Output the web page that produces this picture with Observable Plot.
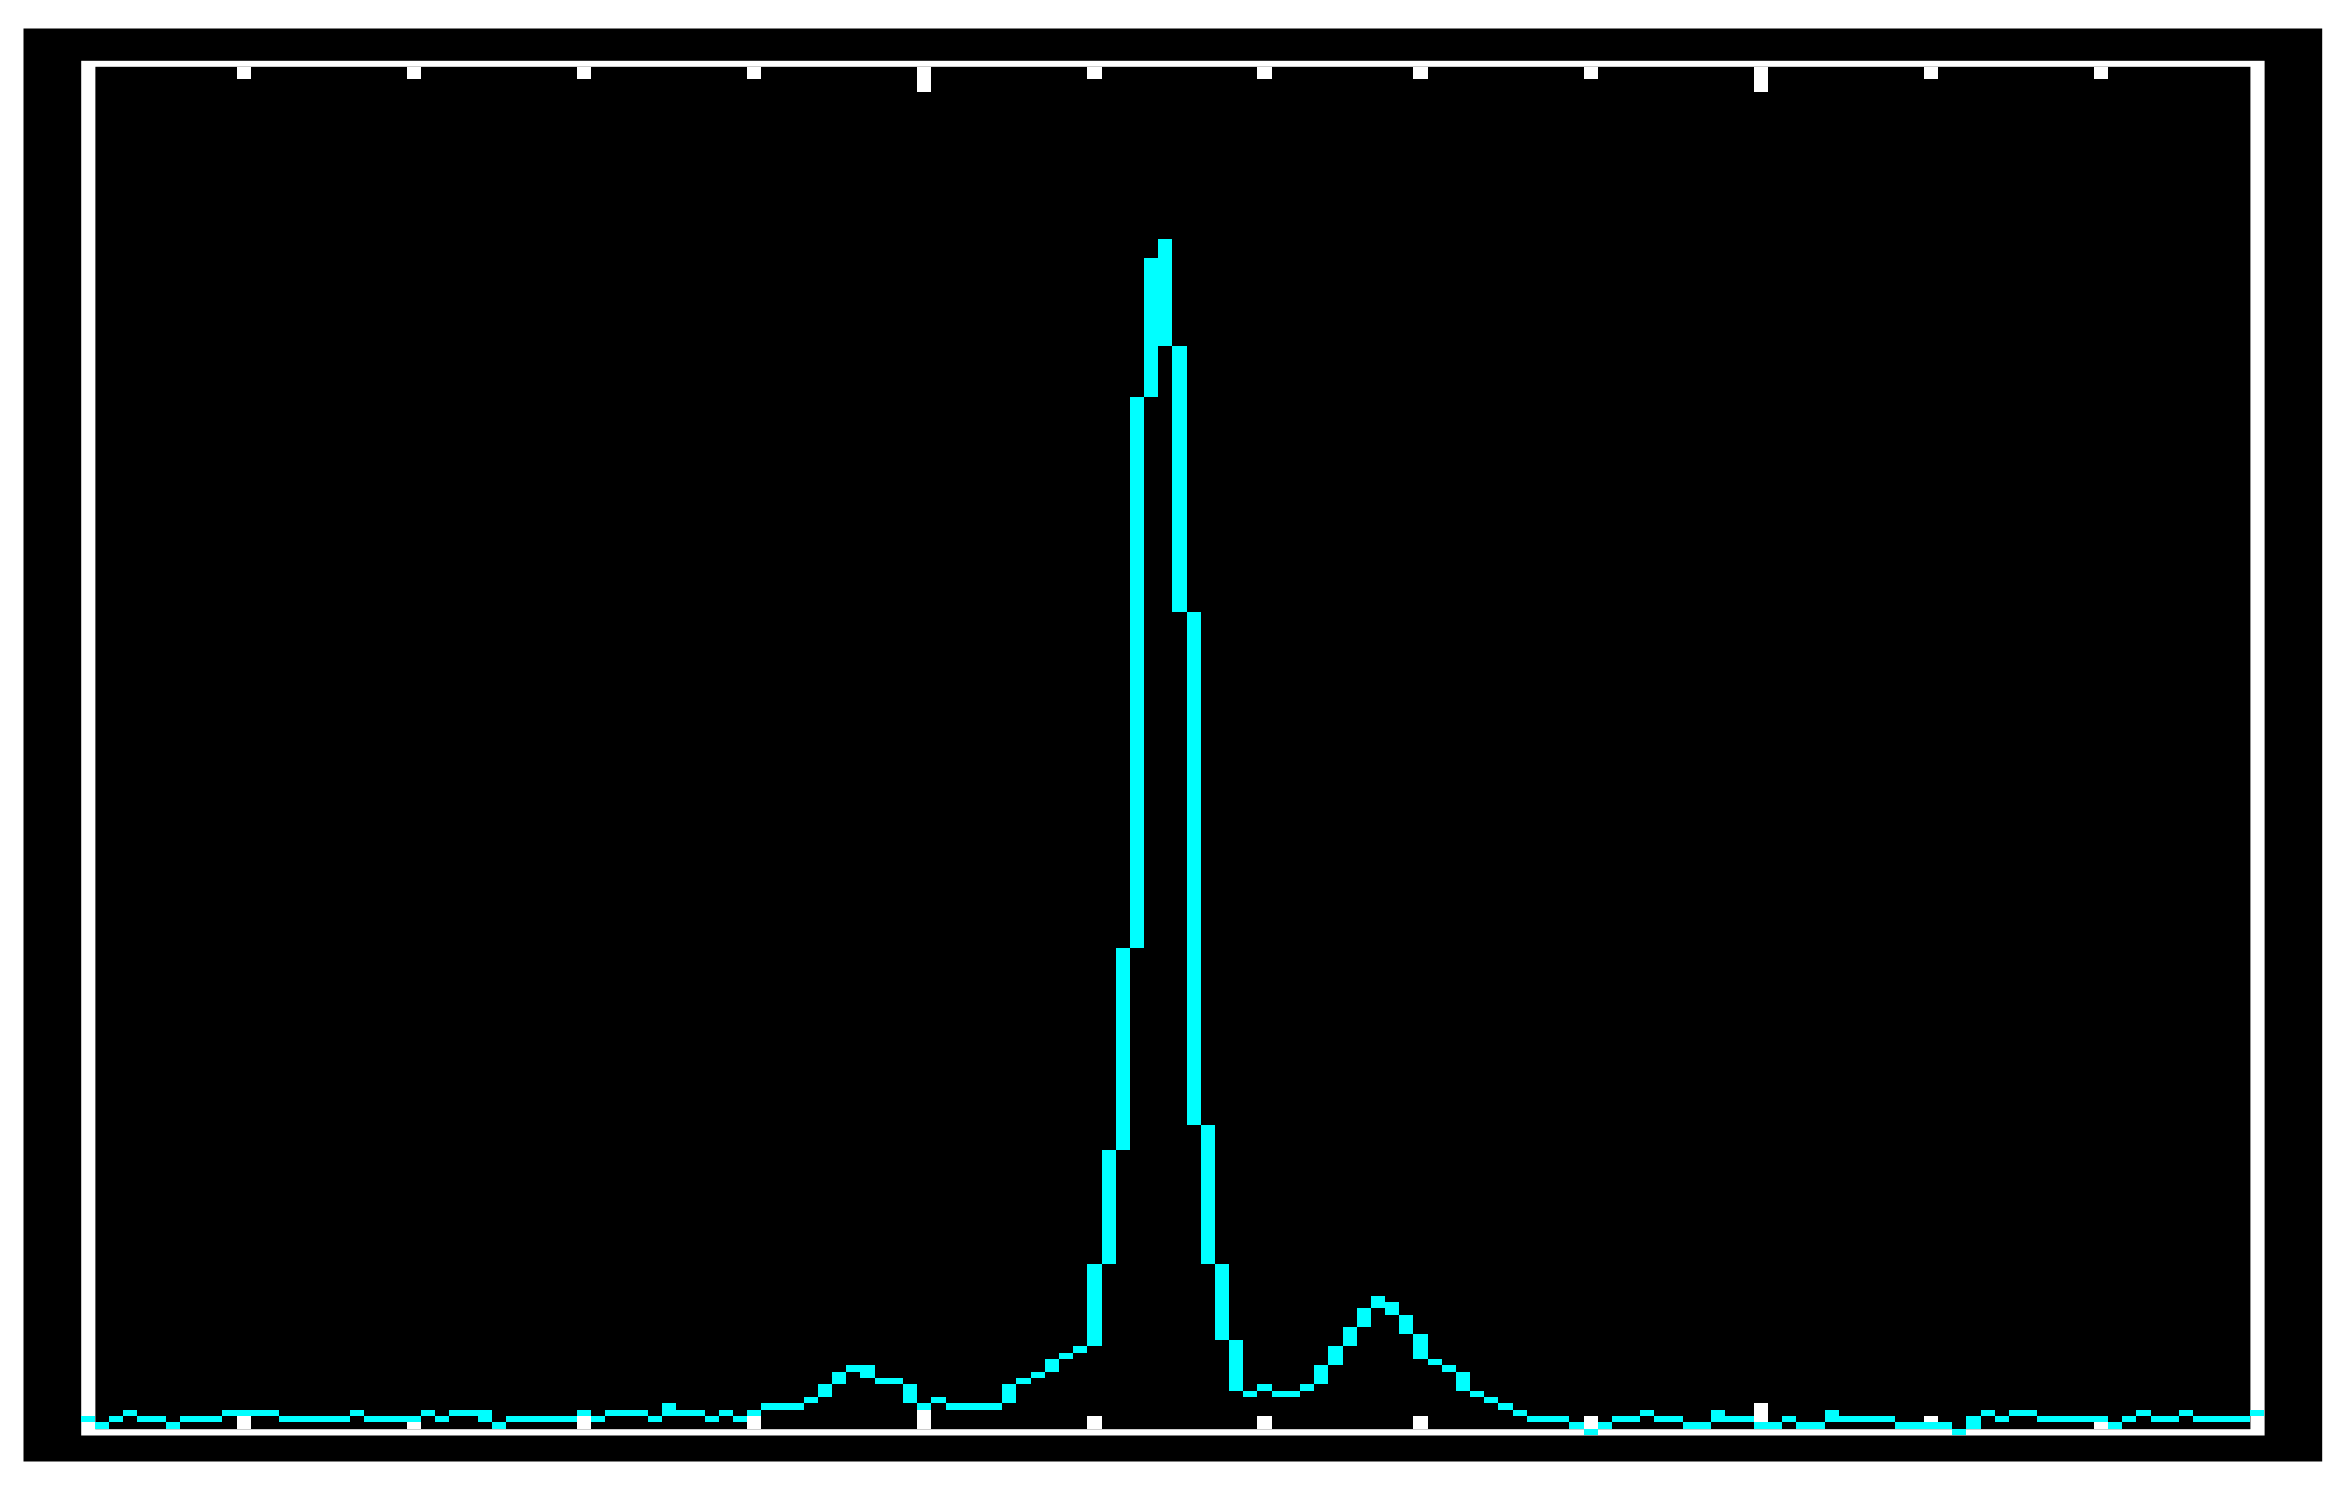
<!DOCTYPE html>
<html>
<head>
<meta charset="utf-8">
<script src="https://cdn.jsdelivr.net/npm/d3@7"></script>
<script src="https://cdn.jsdelivr.net/npm/@observablehq/plot@0.6"></script>
<style>
  html, body { margin: 0; padding: 0; background: #ffffff; overflow: hidden; }
  #chart svg { display: block; }
</style>
</head>
<body>
<div id="chart"></div>
<script>
// Histogram counts, one per channel (channel 0 … 153)
const counts = [
  2,1,2,3,2,2,1,2,2,2,
  3,3,3,3,2,2,2,2,2,3,
  2,2,2,2,3,2,3,3,3,1,
  2,2,2,2,2,3,2,3,3,3,
  2,4,3,3,2,3,2,3,4,4,
  4,5,7,9,10,10,8,8,7,4,
  5,4,4,4,4,7,8,9,11,12,
  13,26,44,76,163,185,188,171,129,48,
  26,14,6,7,6,6,7,10,13,16,
  19,21,20,18,15,11,10,9,6,5,
  4,3,2,2,2,1,0,1,2,2,
  3,2,2,1,1,3,2,2,1,1,
  2,1,1,3,2,2,2,2,1,1,
  1,1,0,2,3,2,3,3,2,2,
  2,2,2,1,2,3,2,2,3,2,
  2,2,2,3
];

// Tick positions (channel numbers) on the top and bottom axes
const minorTicks = [11, 23, 35, 47, 71, 83, 94, 106, 130, 142];
const majorTicks = [59, 118];

// Upper limit of the count axis
const yTop = 215.2;

// Step-histogram segments: each channel's block runs from its count down to the
// lower of its neighbours (or one unit thick when it is the lowest).
const bins = counts.map((c, i) => {
  const prev = i > 0 ? counts[i - 1] : c;
  const next = i < counts.length - 1 ? counts[i + 1] : c;
  return {ch: i, top: c, bottom: Math.min(c - 1, prev, next)};
});

const ticks = [
  ...minorTicks.map(t => ({ch: t, len: 2})),
  ...majorTicks.map(t => ({ch: t, len: 4}))
];

const chart = Plot.plot({
  width: 2347,
  height: 1494,
  marginLeft: 80.7,
  marginRight: 82.9,
  marginTop: 60.3,
  marginBottom: 59,
  x: {domain: [0, counts.length], axis: null},
  y: {domain: [-1, yTop + 1], axis: null},
  style: {background: "#ffffff"},
  marks: [
    // black page frame
    Plot.frame({fill: "black", stroke: "none", insetLeft: -57.7, insetRight: -57.6, insetTop: -32.3, insetBottom: -26}),
    // thick white axis box
    Plot.frame({fill: "white", stroke: "none"}),
    Plot.frame({fill: "black", stroke: "none", insetLeft: 14.18, insetRight: 14.18, insetTop: 6, insetBottom: 6.3}),
    // ticks, bottom and top
    Plot.rect(ticks, {x1: d => d.ch, x2: d => d.ch + 1, y1: 0, y2: d => d.len, fill: "white", shapeRendering: "crispEdges"}),
    Plot.rect(ticks, {x1: d => d.ch, x2: d => d.ch + 1, y1: d => yTop - d.len, y2: yTop, fill: "white", shapeRendering: "crispEdges"}),
    // the histogram
    Plot.rect(bins, {x1: "ch", x2: d => d.ch + 1, y1: "bottom", y2: "top", fill: "#00ffff", shapeRendering: "crispEdges"})
  ]
});
document.getElementById("chart").appendChild(chart);
</script>
</body>
</html>
